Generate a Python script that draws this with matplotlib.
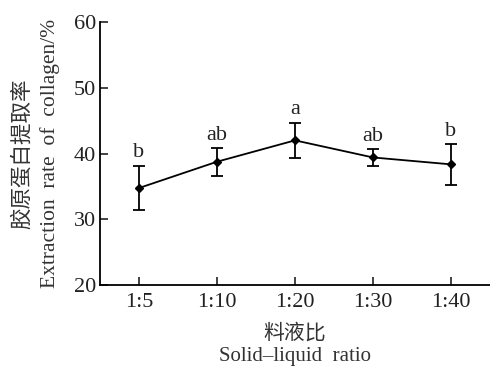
import matplotlib.pyplot as plt

plt.rcParams['font.family'] = ['Liberation Serif', 'Noto Sans CJK SC']

ratios = ['1:5', '1:10', '1:20', '1:30', '1:40']
extraction = [34.75, 38.75, 42.0, 39.4, 38.35]
err = [3.4, 2.1, 2.7, 1.25, 3.1]
letters = ['b', 'ab', 'a', 'ab', 'b']

fig = plt.figure(figsize=(4.9, 3.68), dpi=100)
ax = fig.add_axes([0.204, 0.2255, 0.796, 0.7147])

x = list(range(len(ratios)))
ax.errorbar(x, extraction, yerr=err, color='black', lw=1.3, marker='D', ms=4.5,
            capsize=4, elinewidth=1.3, capthick=1.3)

# significance letters above the error bars
for xi, v, e, lab in zip(x, extraction, err, letters):
    ax.text(xi, v + e + 0.5, lab, ha='center', va='bottom', fontsize=16, color='#222222')

ax.set_xlim(-0.5, 4.5)
ax.set_ylim(20, 60)
ax.set_xticks(x)
ax.set_xticklabels(ratios)
ax.set_yticks([20, 30, 40, 50, 60])
ax.tick_params(direction='in', length=6, width=1.2, labelsize=16, colors='#222222')
ax.tick_params(axis='x', pad=6)
ax.tick_params(axis='y', pad=3)

for s in ['top', 'right']:
    ax.spines[s].set_visible(False)
for s in ['left', 'bottom']:
    ax.spines[s].set_linewidth(1.3)

ax.set_ylabel('胶原蛋白提取率\nExtraction  rate  of  collagen/%', fontsize=15.5,
              color='#333333', linespacing=1.45, labelpad=10)
ax.set_xlabel('料液比\nSolid\u2013liquid  ratio', fontsize=15, color='#333333',
              linespacing=1.3, labelpad=8)

fig.savefig('out.png', dpi=100)
